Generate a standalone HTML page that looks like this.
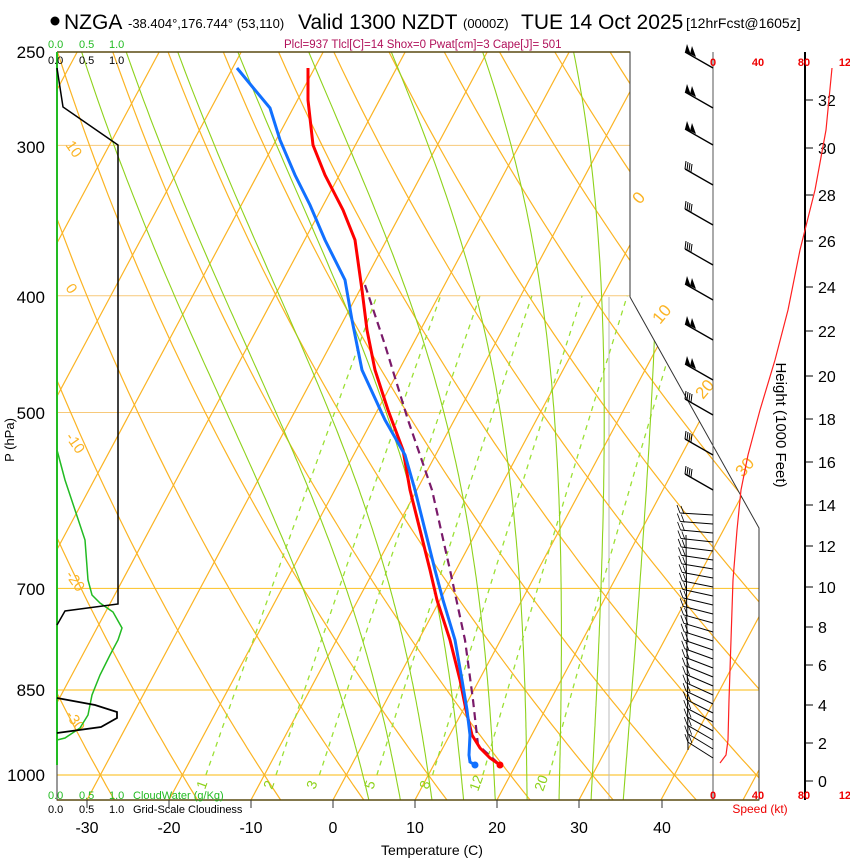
<!DOCTYPE html>
<html><head><meta charset="utf-8"><style>
html,body{margin:0;padding:0;background:#fff}
svg{display:block;font-family:"Liberation Sans",sans-serif}
</style></head><body>
<svg id="s" width="850" height="860" viewBox="0 0 850 860" xmlns="http://www.w3.org/2000/svg">
<defs><clipPath id="cp"><polygon points="57,52 630,52 630,297 759,528 759,800 57,800"/></clipPath></defs>
<g id="bg" clip-path="url(#cp)"></g>
<g id="fg"></g>
<circle cx="55" cy="21" r="4.5" fill="#000"/>
<text x="64" y="29" font-size="21">NZGA</text>
<text x="128" y="28" font-size="13">-38.404°,176.744° (53,110)</text>
<text x="298" y="29" font-size="21">Valid 1300 NZDT</text>
<text x="463" y="28" font-size="13">(0000Z)</text>
<text x="521" y="29" font-size="21">TUE 14 Oct 2025</text>
<text x="686" y="28" font-size="14">[12hrFcst@1605z]</text>
<text x="284" y="48" font-size="11.5" fill="#b0105a">Plcl=937 Tlcl[C]=14 Shox=0 Pwat[cm]=3 Cape[J]= 501</text>
<g font-size="11" fill="#22bb22"><text x="48" y="48">0.0</text><text x="79" y="48">0.5</text><text x="109" y="48">1.0</text>
<text x="48" y="799">0.0</text><text x="79" y="799">0.5</text><text x="109" y="799">1.0</text><text x="133" y="799">CloudWater (g/Kg)</text></g>
<g font-size="11" fill="#000"><text x="48" y="64">0.0</text><text x="79" y="64">0.5</text><text x="109" y="64">1.0</text>
<text x="48" y="813">0.0</text><text x="79" y="813">0.5</text><text x="109" y="813">1.0</text><text x="133" y="813">Grid-Scale Cloudiness</text></g>
<g font-size="17" text-anchor="end"><text x="45" y="58">250</text><text x="45" y="153">300</text><text x="45" y="303">400</text><text x="45" y="419">500</text><text x="45" y="595">700</text><text x="45" y="696">850</text><text x="45" y="781">1000</text></g>
<text transform="translate(14,440) rotate(-90)" font-size="13" text-anchor="middle">P (hPa)</text>
<g font-size="16" text-anchor="middle"><text x="87" y="833">-30</text><text x="169" y="833">-20</text><text x="251" y="833">-10</text><text x="333" y="833">0</text><text x="415" y="833">10</text><text x="497" y="833">20</text><text x="579" y="833">30</text><text x="662" y="833">40</text></g>
<text x="432" y="855" font-size="14" text-anchor="middle">Temperature (C)</text>
<g font-size="11" font-weight="bold" fill="#ee0000" text-anchor="middle"><text x="713" y="66">0</text><text x="758" y="66">40</text><text x="804" y="66">80</text><text x="848" y="66">120</text>
<text x="713" y="799">0</text><text x="758" y="799">40</text><text x="804" y="799">80</text><text x="848" y="799">120</text></g>
<text x="760" y="813" font-size="12" fill="#ee0000" text-anchor="middle">Speed (kt)</text>
<text transform="translate(776,425) rotate(90)" font-size="15" text-anchor="middle">Height (1000 Feet)</text>
</svg>
<script>
(function(){
var NS="http://www.w3.org/2000/svg";
var bg=document.getElementById("bg"),fg=document.getElementById("fg");
function Y(p){return 775-523*Math.log(1000/p);}
function X(T,p){return 333+8.2*T+0.535*(800-Y(p));}
function el(par,tag,a){var e=document.createElementNS(NS,tag);for(var k in a)e.setAttribute(k,a[k]);par.appendChild(e);return e;}
function pl(par,pts,a){a.points=pts.map(function(q){return q[0].toFixed(1)+","+q[1].toFixed(1)}).join(" ");a.fill="none";return el(par,"polyline",a);}
var OR="#fbb424",GR="#8ed21c";
[300,400,500].forEach(function(p){el(bg,"line",{x1:57,y1:Y(p),x2:630,y2:Y(p),stroke:"#f7c97a","stroke-width":1});});
[700,850,1000].forEach(function(p){el(bg,"line",{x1:57,y1:Y(p),x2:760,y2:Y(p),stroke:"#fcc83c","stroke-width":1.2});});
el(bg,"line",{x1:609,y1:297,x2:609,y2:800,stroke:"#bbb","stroke-width":1});
for(var T=-160;T<=60;T+=10){pl(bg,[[X(T,1050),Y(1050)],[X(T,240),Y(240)]],{stroke:OR,"stroke-width":1.2});}
for(var th=-60;th<=220;th+=10){var pts=[];for(var p=1050;p>=240;p-=10){var t=(th+273.15)*Math.pow(p/1000,0.2857)-273.15;pts.push([X(t,p),Y(p)]);}pl(bg,pts,{stroke:OR,"stroke-width":1.2});}
function Td(w,p){var e=w*p/(622+w);var l=Math.log(e/6.112);return 243.5*l/(17.67-l);}
[1,2,3,5,8,12,20].forEach(function(w){var pts=[];for(var p=1000;p>=400;p-=10)pts.push([X(Td(w,p),p),Y(p)]);pl(bg,pts,{stroke:"#9be034","stroke-width":1.3,"stroke-dasharray":"5,5"});});
function es(t){return 6.112*Math.exp(17.67*t/(t+243.5));}
function moist(T0){var t=T0+273.15;function d(t,p){var rs=0.622*es(t-273.15)/(p-es(t-273.15));var L=2.5e6,Rd=287,cp=1005;return (Rd*t+L*rs)/(cp+L*L*rs*0.622/(Rd*t*t))/p;}
 var up=[],dn=[];var tt=t;for(var pp=1000;pp>=250;pp-=5){up.push([X(tt-273.15,pp),Y(pp)]);tt-=d(tt,pp)*5;}
 tt=t;for(var pp=1000;pp<=1050;pp+=5){dn.push([X(tt-273.15,pp),Y(pp)]);tt+=d(tt,pp)*5;}
 return dn.reverse().concat(up);}
[2,6,10,14,18,22,26,30,34].forEach(function(T0){pl(bg,moist(T0),{stroke:GR,"stroke-width":1.1});});
pl(fg,[[57,52],[630,52],[630,297],[759,528],[759,800],[57,800],[57,52]],{stroke:"#333","stroke-width":1});
el(fg,"line",{x1:57,y1:52,x2:630,y2:52,stroke:"#5a4a10","stroke-width":1.5});
el(fg,"line",{x1:57,y1:800,x2:759,y2:800,stroke:"#5a4a10","stroke-width":1.5});
el(fg,"line",{x1:57,y1:52,x2:57,y2:765,stroke:"#22bb22","stroke-width":2});
[87,169,251,333,415,497,579,662].forEach(function(x){el(fg,"line",{x1:x,y1:800,x2:x,y2:808,stroke:"#333"});});
var lab=[["10",65,145],["0",65,288],["-10",65,437],["-20",65,575],["-30",65,715]];
lab.forEach(function(l){var t=el(fg,"text",{x:l[1],y:l[2],"font-size":15,fill:OR,transform:"rotate(55 "+l[1]+" "+l[2]+")"});t.textContent=l[0];});
[["0",640,205],["10",660,325],["20",703,400],["30",743,478]].forEach(function(l){var t=el(fg,"text",{x:l[1],y:l[2],"font-size":17,fill:OR,transform:"rotate(-50 "+l[1]+" "+l[2]+")"});t.textContent=l[0];});
[["1",205,790],["2",272,790],["3",315,790],["5",373,790],["8",428,790],["12",478,792],["20",543,792]].forEach(function(l){var t=el(fg,"text",{x:l[1],y:l[2],"font-size":14,fill:"#8ed21c",transform:"rotate(-70 "+l[1]+" "+l[2]+")"});t.textContent=l[0];});
pl(fg,[[57,740],[65,738],[80,728],[88,715],[92,695],[100,675],[110,655],[118,640],[122,628],[113,612],[100,603],[92,595],[88,580],[85,540],[75,510],[65,480],[57,450]],{stroke:"#22bb22","stroke-width":1.5});
pl(fg,[[57,68],[63,107],[118,145],[118,604],[65,611],[57,625]],{stroke:"#000","stroke-width":1.5});
pl(fg,[[57,698],[95,705],[117,712],[117,718],[101,727],[57,733]],{stroke:"#000","stroke-width":1.8});
pl(fg,[[365,285],[385,345],[408,420],[432,490],[450,570],[465,640],[473,700],[478,745],[500,765]],{stroke:"#7a1a6a","stroke-width":2.2,"stroke-dasharray":"8,5"});
pl(fg,[[308,68],[308,100],[313,145],[325,175],[343,210],[355,240],[362,290],[367,330],[375,370],[388,410],[403,450],[410,490],[420,530],[430,570],[437,600],[450,640],[460,680],[466,710],[472,735],[480,748],[490,758],[500,765]],{stroke:"#ff0000","stroke-width":3});
pl(fg,[[237,68],[255,90],[270,108],[280,140],[295,175],[310,205],[325,240],[345,280],[352,320],[362,370],[385,420],[405,455],[415,490],[425,530],[435,570],[443,600],[455,640],[462,680],[467,710],[470,735],[469,755],[470,762],[475,765]],{stroke:"#1170ff","stroke-width":3});
el(fg,"circle",{cx:500,cy:765,r:3.5,fill:"#ff0000"});el(fg,"circle",{cx:475,cy:765,r:3.5,fill:"#1170ff"});
el(fg,"line",{x1:713,y1:52,x2:713,y2:800,stroke:"#555","stroke-width":1});
el(fg,"line",{x1:805,y1:52,x2:805,y2:800,stroke:"#000","stroke-width":2});
var hl=[[0,781],[2,743],[4,705],[6,665],[8,627],[10,587],[12,546],[14,505],[16,462],[18,419],[20,376],[22,331],[24,287],[26,241],[28,195],[30,148],[32,100]];
hl.forEach(function(h){el(fg,"line",{x1:805,y1:h[1],x2:813,y2:h[1],stroke:"#000"});var t=el(fg,"text",{x:818,y:h[1]+6,"font-size":16});t.textContent=h[0];});
pl(fg,[[720,763],[726,755],[728,740],[729,700],[731,640],[733,580],[737,530],[741,490],[748,455],[760,410],[775,360],[788,310],[800,250],[815,190],[826,130],[832,68]],{stroke:"#ff2020","stroke-width":1.2});
var up=[68,108,145,185,225,265,300,340,380,415,455,490];
up.forEach(function(y,i){var x2=685,y2=y-16;el(fg,"line",{x1:713,y1:y,x2:x2,y2:y2,stroke:"#000","stroke-width":1.3});
 if(i<3||(i>=6&&i<9)){el(fg,"polygon",{points:x2+","+y2+" "+(x2+2)+","+(y2-8)+" "+(x2+6)+","+(y2+3),fill:"#000"});el(fg,"polygon",{points:(x2+5)+","+(y2+2)+" "+(x2+7)+","+(y2-6)+" "+(x2+11)+","+(y2+5),fill:"#000"});}
 else{for(var k=0;k<4;k++)el(fg,"line",{x1:x2+2*k,y1:y2+k,x2:x2+2*k+1,y2:y2+k-8,stroke:"#000"});}});
for(var y=515;y<=760;y+=9){var f=(y-515)/245;var x2=680+8*f,y2=y-2-14*f;el(fg,"line",{x1:713,y1:y,x2:x2,y2:y2,stroke:"#000","stroke-width":1});
 el(fg,"line",{x1:x2,y1:y2,x2:x2-3,y2:y2-8,stroke:"#000","stroke-width":0.8});el(fg,"line",{x1:x2+4,y1:y2+1,x2:x2+1,y2:y2-7,stroke:"#000","stroke-width":0.8});}
el(fg,"line",{x1:686,y1:535,x2:688,y2:750,stroke:"#000","stroke-width":1});
})();
</script>
</body></html>
